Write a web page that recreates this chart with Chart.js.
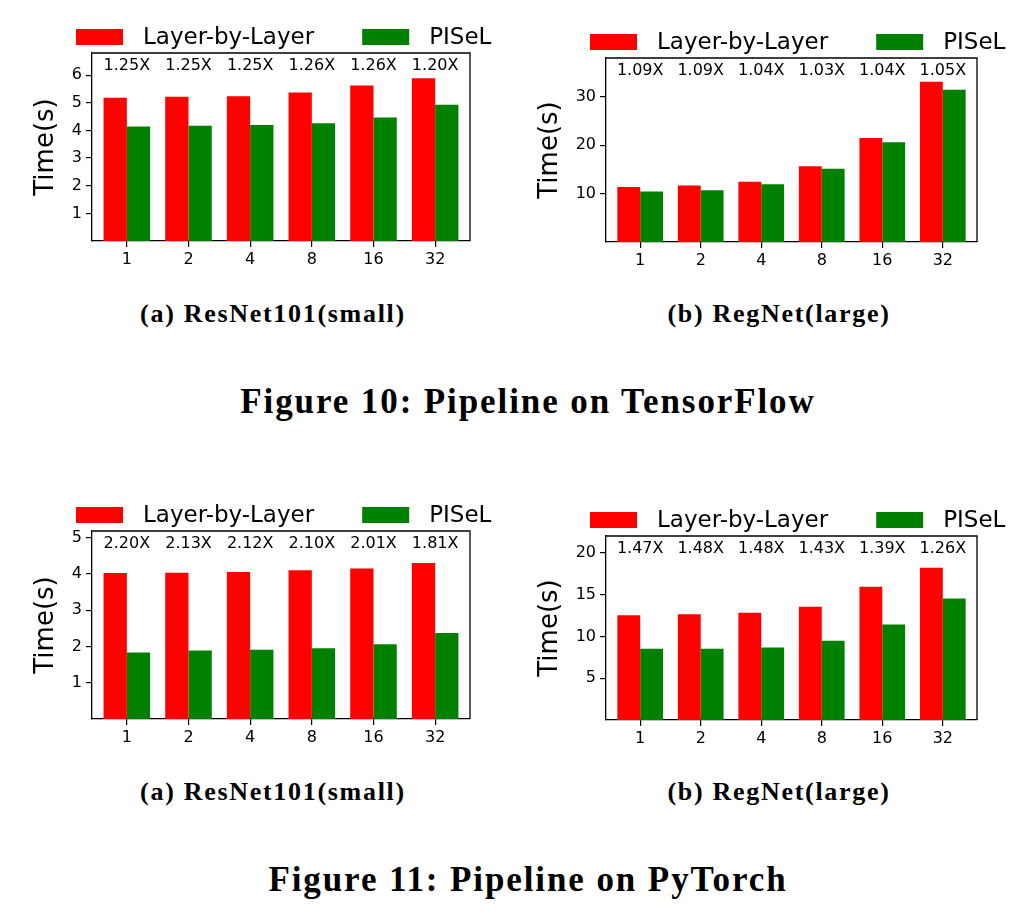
<!DOCTYPE html>
<html>
<head>
<meta charset="utf-8">
<script src="https://cdn.jsdelivr.net/npm/chart.js@4.4.0/dist/chart.umd.min.js"></script>
<style>
html,body{margin:0;padding:0;background:#fff;}
#page{position:relative;width:1020px;height:911px;overflow:hidden;background:#fff;}
canvas{position:absolute;}
.cap{position:absolute;width:1000px;text-align:center;font-family:"Liberation Serif","Times New Roman",serif;font-weight:bold;color:#000;line-height:1;white-space:nowrap;}
.sub{font-size:26px;letter-spacing:1.7px;}
.fig{font-size:35px;letter-spacing:1.9px;}
</style>
</head>
<body>
<div id="page">
<canvas id="c1" width="510" height="280" style="left:0px;top:0px"></canvas>
<canvas id="c2" width="510" height="280" style="left:510px;top:0px"></canvas>
<canvas id="c3" width="510" height="280" style="left:0px;top:480px"></canvas>
<canvas id="c4" width="510" height="280" style="left:510px;top:480px"></canvas>
<div class="cap sub" style="left:-227px;top:301px">(a) ResNet101(small)</div>
<div class="cap sub" style="left:279px;top:301px">(b) RegNet(large)</div>
<div class="cap fig" style="left:28px;top:384px">Figure 10: Pipeline on TensorFlow</div>
<div class="cap sub" style="left:-227px;top:779px">(a) ResNet101(small)</div>
<div class="cap sub" style="left:279px;top:779px">(b) RegNet(large)</div>
<div class="cap fig" style="left:28px;top:862px">Figure 11: Pipeline on PyTorch</div>
</div>
<script>
// ---- data ----
const categories = ['1', '2', '4', '8', '16', '32'];
const seriesNames = ['Layer-by-Layer', 'PISeL'];

const tfResNetLayer = [5.18, 5.22, 5.24, 5.37, 5.62, 5.89];
const tfResNetPISeL = [4.14, 4.17, 4.20, 4.26, 4.47, 4.93];
const tfResNetSpeedup = ['1.25X', '1.25X', '1.25X', '1.26X', '1.26X', '1.20X'];
const tfResNetTicks = [1, 2, 3, 4, 5, 6];
const tfResNetMax = 6.8;

const tfRegNetLayer = [11.35, 11.65, 12.45, 15.63, 21.48, 33.09];
const tfRegNetPISeL = [10.42, 10.68, 11.95, 15.15, 20.58, 31.44];
const tfRegNetSpeedup = ['1.09X', '1.09X', '1.04X', '1.03X', '1.04X', '1.05X'];
const tfRegNetTicks = [10, 20, 30];
const tfRegNetMax = 38;

const ptResNetLayer = [4.02, 4.03, 4.05, 4.10, 4.145, 4.30];
const ptResNetPISeL = [1.83, 1.89, 1.91, 1.95, 2.06, 2.37];
const ptResNetSpeedup = ['2.20X', '2.13X', '2.12X', '2.10X', '2.01X', '1.81X'];
const ptResNetTicks = [1, 2, 3, 4, 5];
const ptResNetMax = 5.18;

const ptRegNetLayer = [12.51, 12.63, 12.83, 13.55, 15.94, 18.21];
const ptRegNetPISeL = [8.52, 8.52, 8.68, 9.48, 11.43, 14.54];
const ptRegNetSpeedup = ['1.47X', '1.48X', '1.48X', '1.43X', '1.39X', '1.26X'];
const ptRegNetTicks = [5, 10, 15, 20];
const ptRegNetMax = 22;

// ---- style / layout ----
const RED = '#ff0000';
const GREEN = '#008000';
const FONT = '"DejaVu Sans", "Liberation Sans", sans-serif';
const CANVAS_W = 510, CANVAS_H = 280, X_AXIS_H = 30;

const framePlugin = {
  id: 'frame',
  afterDraw(chart) {
    const { ctx, chartArea: a } = chart;
    ctx.save();
    ctx.strokeStyle = '#000';
    ctx.lineWidth = 1.3;
    ctx.beginPath();
    ctx.moveTo(a.left, a.top);
    ctx.lineTo(a.right, a.top);
    ctx.lineTo(a.right, a.bottom);
    ctx.stroke();
    ctx.restore();
  }
};

const legendPlugin = {
  id: 'topLegend',
  afterDraw(chart) {
    const { ctx, chartArea: a } = chart;
    const cy = a.top - 16;
    let x = a.left - 16;
    ctx.save();
    ctx.font = '23px ' + FONT;
    ctx.textBaseline = 'middle';
    ctx.textAlign = 'left';
    chart.data.datasets.forEach(ds => {
      ctx.fillStyle = ds.backgroundColor;
      ctx.fillRect(x, cy - 8, 47, 16);
      x += 47 + 20;
      ctx.fillStyle = '#000';
      ctx.fillText(ds.label, x, cy + 1);
      x += ctx.measureText(ds.label).width + 48;
    });
    ctx.restore();
  }
};

function speedupPlugin(labels) {
  return {
    id: 'speedup',
    afterDatasetsDraw(chart) {
      const { ctx, chartArea: a, scales } = chart;
      ctx.save();
      ctx.font = '16px ' + FONT;
      ctx.fillStyle = '#000';
      ctx.textAlign = 'center';
      ctx.textBaseline = 'middle';
      labels.forEach((t, i) => ctx.fillText(t, scales.x.getPixelForValue(i), a.top + 13));
      ctx.restore();
    }
  };
}

function makeChart(id, lay, layer, pisel, speedup, yTicks, yMax) {
  const axisGrid = { display: true, drawOnChartArea: false, drawTicks: true, tickLength: 6, color: '#000', lineWidth: 1.2, offset: false };
  const axisBorder = { display: true, color: '#000', width: 1.3 };
  return new Chart(document.getElementById(id), {
    type: 'bar',
    data: {
      datasets: [
        { label: seriesNames[0], data: categories.map((c, i) => ({ x: i, y: layer[i] })), backgroundColor: RED, borderWidth: 0, categoryPercentage: 0.755, barPercentage: 1 },
        { label: seriesNames[1], data: categories.map((c, i) => ({ x: i, y: pisel[i] })), backgroundColor: GREEN, borderWidth: 0, categoryPercentage: 0.755, barPercentage: 1 }
      ]
    },
    options: {
      responsive: false,
      animation: false,
      devicePixelRatio: 1,
      layout: { padding: { left: lay.titleLeft, right: CANVAS_W - lay.R, top: lay.T, bottom: CANVAS_H - lay.B - X_AXIS_H } },
      plugins: { legend: { display: false }, tooltip: { enabled: false } },
      scales: {
        x: {
          type: 'linear', offset: false, min: -0.565, max: categories.length - 1 + 0.565,
          afterBuildTicks: s => { s.ticks = categories.map((c, i) => ({ value: i })); },
          afterFit: s => { s.height = X_AXIS_H; },
          ticks: { callback: v => categories[v], font: { family: FONT, size: 16 }, color: '#000', padding: 3, maxRotation: 0, autoSkip: false },
          grid: axisGrid, border: axisBorder
        },
        y: {
          min: 0, max: yMax,
          afterBuildTicks: s => { s.ticks = yTicks.map(v => ({ value: v })); },
          afterFit: s => { s.width = lay.L - lay.titleLeft; },
          ticks: { font: { family: FONT, size: 16 }, color: '#000', padding: 4 },
          grid: axisGrid, border: axisBorder,
          title: { display: true, text: 'Time(s)', font: { family: FONT, size: 26 }, color: '#000', padding: { top: 4, bottom: 4 } }
        }
      }
    },
    plugins: [framePlugin, legendPlugin, speedupPlugin(speedup)]
  });
}

makeChart('c1', { L: 92, R: 470, T: 53, B: 241, titleLeft: 27 }, tfResNetLayer, tfResNetPISeL, tfResNetSpeedup, tfResNetTicks, tfResNetMax);
makeChart('c2', { L: 96, R: 467, T: 58, B: 242, titleLeft: 21 }, tfRegNetLayer, tfRegNetPISeL, tfRegNetSpeedup, tfRegNetTicks, tfRegNetMax);
makeChart('c3', { L: 92, R: 470, T: 51, B: 239, titleLeft: 27 }, ptResNetLayer, ptResNetPISeL, ptResNetSpeedup, ptResNetTicks, ptResNetMax);
makeChart('c4', { L: 96, R: 467, T: 56, B: 240, titleLeft: 21 }, ptRegNetLayer, ptRegNetPISeL, ptRegNetSpeedup, ptRegNetTicks, ptRegNetMax);
</script>
</body>
</html>
